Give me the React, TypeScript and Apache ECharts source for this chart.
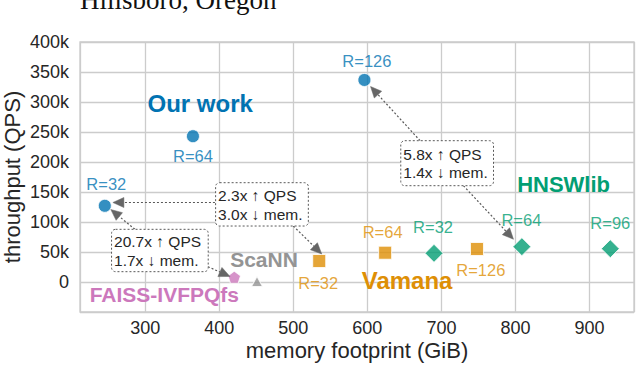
import React, { useEffect, useRef } from "react";
import * as echarts from "echarts";

const FONT = "Liberation Sans, Arial, Helvetica, sans-serif";
const SERIF = "Liberation Serif, Times New Roman, serif";
const TEXT = "#262626";
const GRID = "#cccccc";
const ARROW = "#595959";

const BLUE = "#0173B2";
const ORANGE = "#DE8F05";
const GREEN = "#029E73";
const PINK = "#CC78BC";
const GRAY = "#949494";

// ---- data (memory GiB, throughput QPS) ----
const ourWorkMem = [245.5, 364.5, 596];
const ourWorkQps = [127000, 243000, 336700];
const ourWorkLabels = ["R=32", "R=64", "R=126"];

const vamanaMem = [535, 624, 748];
const vamanaQps = [35000, 48800, 55000];
const vamanaLabels = ["R=32", "R=64", "R=126"];

const hnswMem = [690, 808.6, 928];
const hnswQps = [47800, 58900, 55500];
const hnswLabels = ["R=32", "R=64", "R=96"];

const faissMem = [420.3];
const faissQps = [8000];

const scannMem = [451];
const scannQps = [800];

const methodNames = ["Our work", "Vamana", "HNSWlib", "ScaNN", "FAISS-IVFPQfs"];
const annotationTexts = [
  "2.3x \u2191 QPS\n3.0x \u2193 mem.",
  "20.7x \u2191 QPS\n1.7x \u2193 mem.",
  "5.8x \u2191 QPS\n1.4x \u2193 mem.",
];

// ---- layout / style (kept apart from the data) ----
const ourWorkLabelOffsets = [[1.5, -22], [0, 20], [2.5, -19.3]];
const vamanaLabelOffsets = [[-1, 21.8], [-2.5, -20.7], [3.8, 20.5]];
const hnswLabelOffsets = [[-1, -26.5], [-0.5, -26.2], [0, -26.2]];

// method-name anchors in data coordinates, with font sizes
const methodNamePos = [
  { x: 374.3, y: 297800, size: 24, color: BLUE },
  { x: 653.6, y: 1700, size: 24, color: ORANGE },
  { x: 864.9, y: 162500, size: 22, color: GREEN },
  { x: 460.4, y: 36700, size: 21, color: GRAY },
  { x: 325.9, y: -20000, size: 21, color: PINK },
];

// annotation boxes (data coords of top-left / bottom-right corners)
const boxPos = [
  { x1: 395.1, y1: 165500, x2: 520.3, y2: 93300 },
  { x1: 254.6, y1: 87800, x2: 385.1, y2: 17200 },
  { x1: 645.1, y1: 235500, x2: 770.3, y2: 160500 },
];

// arrows: [fromX, fromY, tipX, tipY] in data coords
const arrowPos = [
  [394.2, 132500, 256.4, 132500],
  [500, 93300, 538.4, 46700],
  [286.1, 87800, 253.6, 120800],
  [384.7, 25500, 414.5, 9200],
  [671.2, 235500, 604.3, 325800],
  [729.7, 160500, 797.3, 71200],
];

const PENTAGON =
  "path://M0,-1L0.951,-0.309L0.588,0.809L-0.588,0.809L-0.951,-0.309Z";

function pts(xs: number[], ys: number[], labels?: string[], offs?: number[][], color?: string) {
  return xs.map((x, i) => {
    const d: any = { value: [x, ys[i]] };
    if (labels && offs) {
      d.label = {
        show: true,
        formatter: labels[i],
        position: "inside",
        offset: offs[i],
        color,
        fontSize: 16.5,
        fontFamily: FONT,
      };
    }
    return d;
  });
}

export default function App() {
  const ref = useRef<HTMLDivElement>(null);

  useEffect(() => {
    if (!ref.current) return;
    const chart = echarts.init(ref.current, null, { renderer: "svg" });
    const markerStyle = (c: string) => ({ color: c, borderColor: "#fff", borderWidth: 1 });

    chart.setOption({
      animation: false,
      textStyle: { fontFamily: FONT },
      grid: {
        left: 80,
        right: 2,
        top: 42,
        bottom: 56,
        show: true,
        borderColor: GRID,
        borderWidth: 1.3,
        backgroundColor: "#fff",
        containLabel: false,
        outerBoundsMode: "none",
      },
      xAxis: {
        type: "value",
        min: 212,
        max: 960,
        minInterval: 100,
        maxInterval: 100,
        name: "memory footprint (GiB)",
        nameLocation: "middle",
        nameGap: 27,
        nameMoveOverlap: false,
        nameTextStyle: { fontSize: 22, color: TEXT, fontFamily: FONT },
        axisLine: { show: false },
        axisTick: { show: false },
        axisLabel: {
          fontSize: 18,
          color: TEXT,
          margin: 7,
          fontFamily: FONT,
          showMinLabel: false,
          showMaxLabel: false,
          formatter: (v: number) => (v % 100 === 0 ? String(v) : ""),
        },
        splitLine: { show: true, lineStyle: { color: GRID, width: 1.3 } },
      },
      yAxis: {
        type: "value",
        min: -50000,
        max: 400000,
        interval: 50000,
        name: "throughput (QPS)",
        nameLocation: "middle",
        nameGap: 57,
        nameMoveOverlap: false,
        nameTextStyle: { fontSize: 22, lineHeight: 22, color: TEXT, fontFamily: FONT },
        axisLine: { show: false },
        axisTick: { show: false },
        axisLabel: {
          fontSize: 18,
          color: TEXT,
          margin: 11,
          fontFamily: FONT,
          formatter: (v: number) => (v < 0 ? "" : v === 0 ? "0" : `${v / 1000}k`),
        },
        splitLine: { show: true, lineStyle: { color: GRID, width: 1.3 } },
      },
      series: [
        {
          name: methodNames[0],
          type: "scatter",
          z: 6,
          symbol: "circle",
          symbolSize: 13,
          itemStyle: markerStyle(BLUE),
          data: pts(ourWorkMem, ourWorkQps, ourWorkLabels, ourWorkLabelOffsets, BLUE),
        },
        {
          name: methodNames[1],
          type: "scatter",
          z: 6,
          symbol: "rect",
          symbolSize: 13,
          itemStyle: markerStyle(ORANGE),
          data: pts(vamanaMem, vamanaQps, vamanaLabels, vamanaLabelOffsets, ORANGE),
        },
        {
          name: methodNames[2],
          type: "scatter",
          z: 6,
          symbol: "diamond",
          symbolSize: 18,
          itemStyle: markerStyle(GREEN),
          data: pts(hnswMem, hnswQps, hnswLabels, hnswLabelOffsets, GREEN),
        },
        {
          name: methodNames[3],
          type: "scatter",
          z: 6,
          symbol: "triangle",
          symbolSize: [11, 10],
          itemStyle: markerStyle(GRAY),
          data: pts(scannMem, scannQps),
        },
        {
          name: methodNames[4],
          type: "scatter",
          z: 6,
          symbol: PENTAGON,
          symbolSize: [12.5, 12],
          itemStyle: markerStyle(PINK),
          data: pts(faissMem, faissQps),
        },
      ],
    });

    const px = (x: number, y: number) =>
      chart.convertToPixel({ gridIndex: 0 }, [x, y]) as number[];

    const graphics: any[] = [];

    // header text cut off at the top (belongs to the surrounding page)
    graphics.push({
      type: "text",
      x: 80,
      y: 0,
      z: 20,
      style: {
        text: "Hillsboro, Oregon",
        fontFamily: SERIF,
        fontSize: 27,
        fill: "#111",
        align: "left",
        verticalAlign: "middle",
      },
    });

    // arrows
    arrowPos.forEach(([fx, fy, tx, ty]) => {
      const [x0, y0] = px(fx, fy);
      const [x1, y1] = px(tx, ty);
      const dx = x1 - x0;
      const dy = y1 - y0;
      const len = Math.hypot(dx, dy) || 1;
      const ux = dx / len;
      const uy = dy / len;
      const L = 11;
      const W = 5;
      const bx = x1 - ux * L;
      const by = y1 - uy * L;
      graphics.push({
        type: "line",
        z: 7,
        shape: { x1: x0, y1: y0, x2: bx, y2: by },
        style: { stroke: ARROW, lineWidth: 1.2, lineDash: [2, 2] },
      });
      graphics.push({
        type: "polygon",
        z: 7,
        shape: {
          points: [
            [x1, y1],
            [bx - uy * W, by + ux * W],
            [bx + uy * W, by - ux * W],
          ],
        },
        style: { fill: "#666", stroke: "#666", lineWidth: 0.5 },
      });
    });

    // boxes
    boxPos.forEach((b, i) => {
      const [x1, y1] = px(b.x1, b.y1);
      const [x2, y2] = px(b.x2, b.y2);
      graphics.push({
        type: "rect",
        z: 8,
        shape: { x: x1, y: y1, width: x2 - x1, height: y2 - y1, r: 4 },
        style: { fill: "#fff", stroke: ARROW, lineWidth: 1, lineDash: [2, 2] },
      });
      graphics.push({
        type: "text",
        z: 9,
        x: x1 + 2.5,
        y: (y1 + y2) / 2 + 0.5,
        style: {
          text: annotationTexts[i],
          fontFamily: FONT,
          fontSize: 15.5,
          lineHeight: 18.6,
          fill: TEXT,
          align: "left",
          verticalAlign: "middle",
        },
      });
    });

    // method names
    methodNamePos.forEach((m, i) => {
      const [x, y] = px(m.x, m.y);
      graphics.push({
        type: "text",
        z: 9,
        x,
        y,
        style: {
          text: methodNames[i],
          fontFamily: FONT,
          fontWeight: "bold",
          fontSize: m.size,
          fill: m.color,
          align: "center",
          verticalAlign: "middle",
        },
      });
    });

    chart.setOption({ graphic: { elements: graphics } });

    return () => chart.dispose();
  }, []);

  return (
    <div
      ref={ref}
      style={{ position: "absolute", left: 0, top: 0, width: 636, height: 368 }}
    />
  );
}
